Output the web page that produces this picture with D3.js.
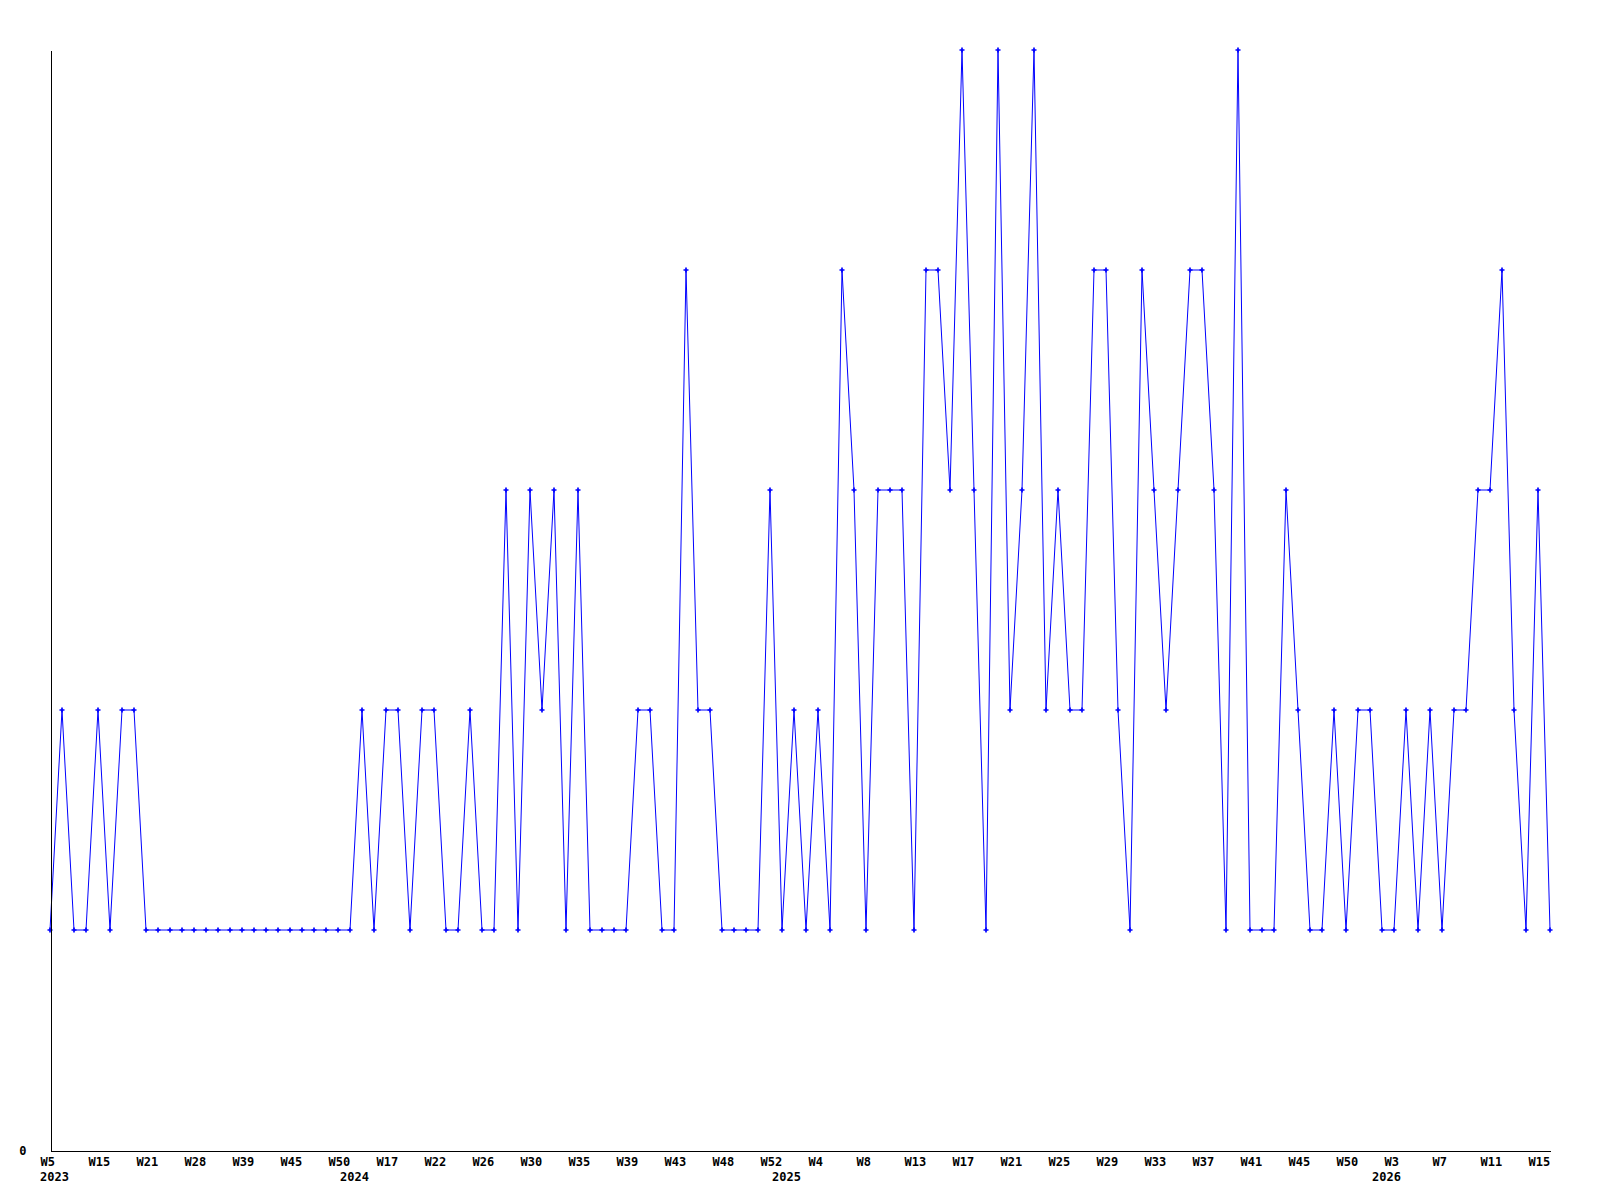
<!DOCTYPE html>
<html>
<head>
<meta charset="utf-8">
<script src="https://cdn.jsdelivr.net/npm/d3@7"></script>
<style>
  body { margin: 0; background: #ffffff; }
  text { font-family: "DejaVu Sans Mono", monospace; font-weight: bold; font-size: 12px; fill: #000; }
</style>
</head>
<body>
<script>
// weekly counts, one point per week that had any entries
var values = [
  1, 2, 1, 1, 2, 1, 2, 2, 1, 1,
  1, 1, 1, 1, 1, 1, 1, 1,
  1, 1, 1, 1, 1, 1, 1, 1,
  2, 1, 2, 2, 1, 2, 2, 1, 1, 2,
  1, 1, 3, 1, 3, 2, 3, 1, 3, 1,
  1, 1, 1, 2, 2, 1, 1, 4,
  2, 2, 1, 1, 1, 1, 3, 1, 2, 1, 2, 1, 4, 3, 1, 3, 3, 3,
  1, 4, 4, 3, 5, 3, 1, 5, 2, 3, 5, 2, 3, 2, 2, 4, 4, 2,
  1, 4, 3, 2, 3, 4, 4, 3, 1, 5, 1, 1, 1, 3, 2, 1, 1, 2,
  1, 2, 2, 1, 1, 2, 1, 2, 1, 2, 2, 3, 3, 4, 2, 1, 3, 1
];

// week labels shown on every 4th point
var tickLabels = ["W5", "W15", "W21", "W28", "W39", "W45", "W50", "W17",
                  "W22", "W26", "W30", "W35", "W39", "W43", "W48", "W52",
                  "W4", "W8", "W13", "W17", "W21", "W25", "W29", "W33",
                  "W37", "W41", "W45", "W50", "W3", "W7", "W11", "W15"];
var tickStep = 4;

// year labels and the point where each year starts
var years = ["2023", "2024", "2025", "2026"];
var yearStart = [0, 25, 61, 111];

var yMax = 5;

// set the dimensions and margins of the graph
var margin = {top: 50, right: 50, bottom: 50, left: 50},
    width = 1600 - margin.left - margin.right,
    height = 1200 - margin.top - margin.bottom;

var x = d3.scaleLinear()
    .domain([0, values.length - 1])
    .range([0, width]);
var y = d3.scaleLinear()
    .domain([0, yMax])
    .range([height, 0]);

var svg = d3.select("body").append("svg")
    .attr("width", width + margin.left + margin.right)
    .attr("height", height + margin.top + margin.bottom)
  .append("g")
    .attr("transform", "translate(" + margin.left + "," + margin.top + ")");

// the line
var line = d3.line()
    .x(function(d, i) { return x(i); })
    .y(function(d) { return y(d); });

svg.append("path")
    .datum(values)
    .attr("fill", "none")
    .attr("stroke", "#0000ff")
    .attr("stroke-width", 1)
    .attr("d", line);

// small cross markers on each point
svg.selectAll(".pt")
    .data(values)
  .enter().append("path")
    .attr("class", "pt")
    .attr("transform", function(d, i) { return "translate(" + x(i) + "," + y(d) + ")"; })
    .attr("d", d3.symbol().type(d3.symbolCross).size(14))
    .attr("fill", "#0000ff");

// x axis
var tickIdx = tickLabels.map(function(d, k) { return k * tickStep; });
var xAxis = svg.append("g")
    .attr("transform", "translate(0," + (height + 0.5) + ")")
    .call(d3.axisBottom(x)
      .tickValues(tickIdx)
      .tickSize(0)
      .tickFormat(function(d) { return tickLabels[d / tickStep]; }));
xAxis.select(".domain").attr("stroke", "#000").attr("shape-rendering", "crispEdges");
xAxis.selectAll(".tick text")
    .attr("text-anchor", "start")
    .attr("x", -10)
    .attr("y", 15)
    .attr("dy", 0)
    .attr("fill", "#000");

// year labels
svg.selectAll(".year")
    .data(years)
  .enter().append("text")
    .attr("class", "year")
    .attr("x", function(d, k) { return x(yearStart[k]) - 10; })
    .attr("y", height + 31)
    .text(function(d) { return d; });

// y axis, only the zero is labelled
var yAxis = svg.append("g")
    .attr("transform", "translate(0.5,0)")
    .call(d3.axisLeft(y).tickValues([0]).tickSize(0).tickPadding(24).tickFormat(d3.format("d")));
yAxis.select(".domain").attr("stroke", "#000").attr("shape-rendering", "crispEdges");
yAxis.selectAll(".tick text")
    .attr("dy", "0.4em")
    .attr("fill", "#000");
</script>
</body>
</html>
